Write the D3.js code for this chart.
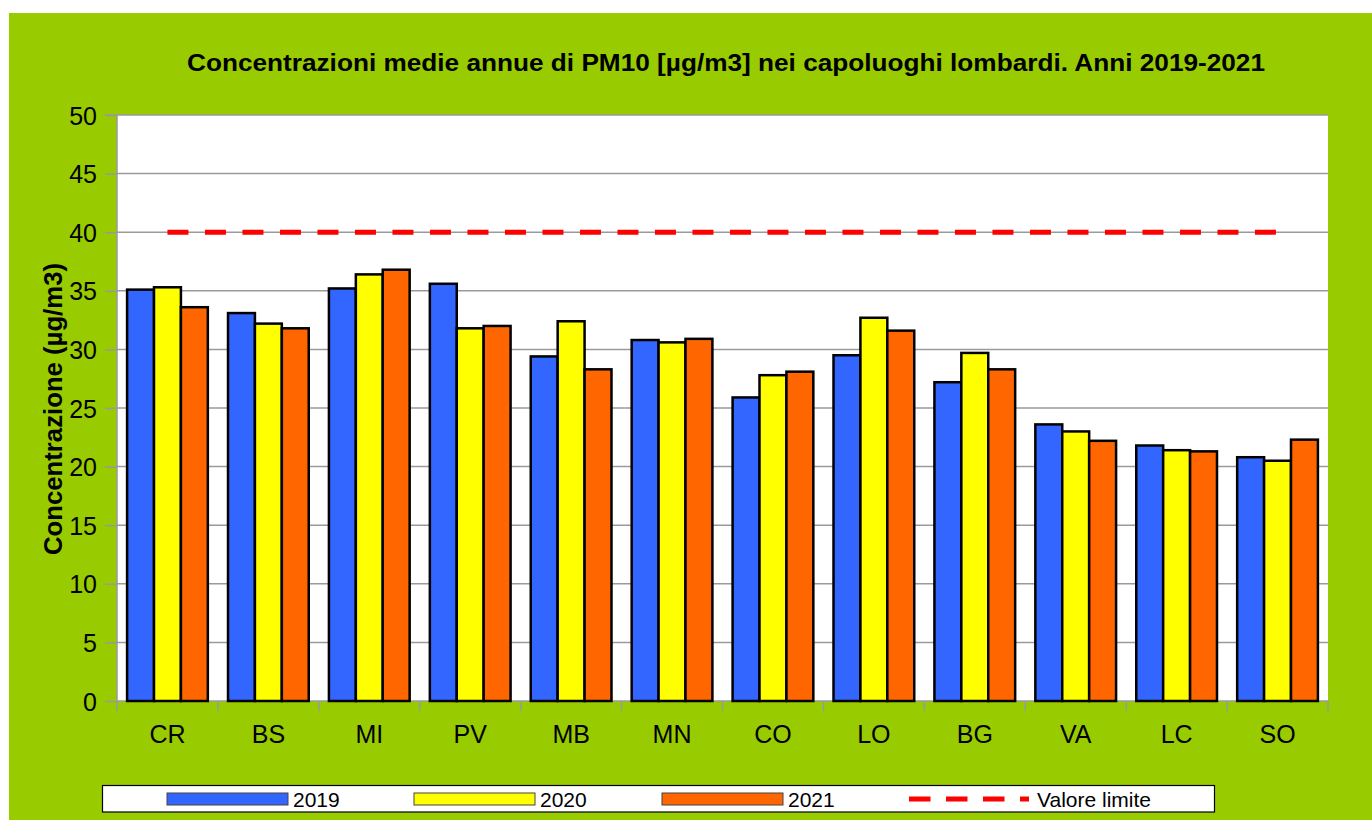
<!DOCTYPE html>
<html><head><meta charset="utf-8">
<script src="https://cdn.jsdelivr.net/npm/d3@7/dist/d3.min.js"></script>
<style>
html,body{margin:0;padding:0;background:#fff;}
svg{display:block;font-family:Arial,"Liberation Sans",sans-serif;}
</style></head>
<body>
<svg id="chart" width="1372" height="820"></svg>
<script>
const categories = ["CR","BS","MI","PV","MB","MN","CO","LO","BG","VA","LC","SO"];
const years = ["2019","2020","2021"];
const values2019 = [35.1,33.1,35.2,35.6,29.4,30.8,25.9,29.5,27.2,23.6,21.8,20.8];
const values2020 = [35.3,32.2,36.4,31.8,32.4,30.6,27.8,32.7,29.7,23.0,21.4,20.5];
const values2021 = [33.6,31.8,36.8,32.0,28.3,30.9,28.1,31.6,28.3,22.2,21.3,22.3];
const limitValue = 40;
const limitLabel = "Valore limite";
const yTicks = [0,5,10,15,20,25,30,35,40,45,50];
const title = "Concentrazioni medie annue di PM10 [µg/m3] nei capoluoghi lombardi. Anni 2019-2021";
const yTitle = "Concentrazione (µg/m3)";
const colors = ["#3366FF","#FFFF00","#FF6600"];

const seriesValues = [values2019, values2020, values2021];

const svg = d3.select("#chart");
const plot = {left:117, right:1328, top:115, bottom:701};

// green background
svg.append("rect").attr("x",9).attr("y",13).attr("width",1372-9).attr("height",820-13).attr("fill","#99CC00");
// plot area
svg.append("rect").attr("x",plot.left).attr("y",plot.top)
  .attr("width",plot.right-plot.left).attr("height",plot.bottom-plot.top).attr("fill","#fff");

const x0 = d3.scaleBand().domain(categories).range([plot.left,plot.right]).paddingInner(0.2).paddingOuter(0.1);
const x1 = d3.scaleBand().domain(years).range([0,x0.bandwidth()]).padding(0);
const y = d3.scaleLinear().domain([0,50]).range([plot.bottom,plot.top]);

// gridlines
svg.append("g").selectAll("line").data(yTicks.filter(d=>d>0)).join("line")
  .attr("x1",plot.left).attr("x2",plot.right)
  .attr("y1",d=>y(d)).attr("y2",d=>y(d))
  .attr("stroke","#9a9a9a").attr("stroke-width",1.5);

// y axis
const yAxis = svg.append("g").attr("transform",`translate(${plot.left},0)`)
  .call(d3.axisLeft(y).tickValues(yTicks).tickSize(12).tickPadding(8).tickFormat(d3.format("d")));
yAxis.select(".domain").attr("stroke","#9a9a9a").attr("stroke-width",1.5).attr("d",`M-12,${plot.top}H0V${plot.bottom}`);
yAxis.selectAll(".tick line").attr("stroke","#9a9a9a").attr("stroke-width",1.5);
yAxis.selectAll(".tick text").attr("font-size",25).attr("font-family","Arial,'Liberation Sans',sans-serif").attr("fill","#000").attr("dy","0.36em");

// x axis
const xAxis = svg.append("g").attr("transform",`translate(0,${plot.bottom})`)
  .call(d3.axisBottom(x0).tickSize(0).tickPadding(0));
xAxis.select(".domain").attr("stroke","#9a9a9a").attr("stroke-width",1.5).attr("d",`M${plot.left},0H${plot.right}`);
xAxis.selectAll(".tick text").attr("font-size",25).attr("font-family","Arial,'Liberation Sans',sans-serif").attr("fill","#000").attr("y",42).attr("dy",0);
// boundary ticks between categories
const boundaries = categories.map(c=>x0(c)-x0.step()*x0.paddingInner()/2 - (categories.indexOf(c)===0 ? x0.step()*(x0.paddingOuter()-x0.paddingInner()/2) : 0));
boundaries.push(plot.right);
xAxis.append("g").selectAll("line").data(boundaries).join("line")
  .attr("x1",d=>d).attr("x2",d=>d).attr("y1",0).attr("y2",10)
  .attr("stroke","#9a9a9a").attr("stroke-width",1.5);

// bars
const groups = svg.append("g").selectAll("g").data(categories).join("g")
  .attr("transform",c=>`translate(${x0(c)},0)`);
groups.selectAll("rect").data((c,i)=>years.map((yr,j)=>({yr, v:seriesValues[j][i], j}))).join("rect")
  .attr("x",d=>x1(d.yr)).attr("width",x1.bandwidth())
  .attr("y",d=>y(d.v)).attr("height",d=>y(0)-y(d.v))
  .attr("fill",d=>colors[d.j]).attr("stroke","#000").attr("stroke-width",2.5);

// limit line
const xFirst = x0(categories[0])+x0.bandwidth()/2;
const xLast = x0(categories[categories.length-1])+x0.bandwidth()/2;
svg.append("line").attr("x1",xFirst).attr("x2",xLast).attr("y1",y(limitValue)).attr("y2",y(limitValue))
  .attr("stroke","#FF0000").attr("stroke-width",5).attr("stroke-dasharray","21,16.5");

// title
svg.append("text").attr("x",726).attr("y",71).attr("text-anchor","middle")
  .attr("font-size",23).attr("font-weight","bold").attr("fill","#000")
  .attr("textLength",1078).attr("lengthAdjust","spacingAndGlyphs").text(title);

// y title
svg.append("text").attr("transform",`translate(62,409) rotate(-90)`)
  .attr("text-anchor","middle").attr("font-size",25).attr("font-weight","bold").attr("fill","#000")
  .attr("textLength",292).attr("lengthAdjust","spacingAndGlyphs").text(yTitle);

// legend
const leg = svg.append("g");
leg.append("rect").attr("x",102.5).attr("y",785.5).attr("width",1112).attr("height",26.5)
  .attr("fill","#fff").attr("stroke","#000").attr("stroke-width",1.2);
const legX = [167,414,662];
years.forEach((yr,j)=>{
  leg.append("rect").attr("x",legX[j]).attr("y",793).attr("width",121).attr("height",12)
    .attr("fill",colors[j]).attr("stroke","#444").attr("stroke-width",1);
  leg.append("text").attr("x",legX[j]+126).attr("y",806.5).attr("font-size",21).attr("fill","#000").text(yr);
});
leg.append("line").attr("x1",909).attr("x2",1029).attr("y1",799).attr("y2",799)
  .attr("stroke","#FF0000").attr("stroke-width",5).attr("stroke-dasharray","21.5,15.5");
leg.append("text").attr("x",1037).attr("y",806.5).attr("font-size",21).attr("fill","#000").text(limitLabel);
</script>
</body></html>
